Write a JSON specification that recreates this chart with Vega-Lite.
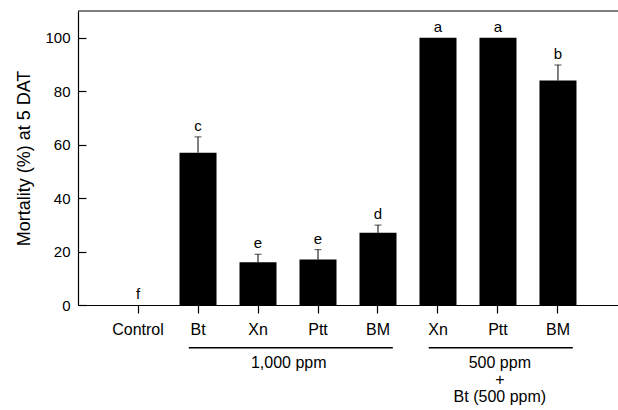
{
  "$schema": "https://vega.github.io/schema/vega-lite/v6.json",
  "width": 540,
  "height": 294,
  "autosize": "none",
  "padding": {"left": 78, "top": 11, "right": 0, "bottom": 105},
  "config": {
    "font": "Liberation Sans",
    "view": {"stroke": null},
    "axis": {"domainColor": "black", "tickColor": "black", "labelColor": "black", "titleColor": "black", "grid": false, "ticks": true, "tickWidth": 1.2, "domainWidth": 1.2}
  },
  "datasets": {
    "bars": [
      {"treatment": "Control", "value": 0, "hi": 0, "letter": "f"},
      {"treatment": "Bt", "value": 57, "hi": 62.9, "letter": "c"},
      {"treatment": "Xn", "value": 16, "hi": 19, "letter": "e"},
      {"treatment": "Ptt", "value": 17, "hi": 20.7, "letter": "e"},
      {"treatment": "BM", "value": 27, "hi": 29.9, "letter": "d"},
      {"treatment": "Xn+Bt", "value": 100, "hi": 100, "letter": "a"},
      {"treatment": "Ptt+Bt", "value": 100, "hi": 100, "letter": "a"},
      {"treatment": "BM+Bt", "value": 84, "hi": 89.8, "letter": "b"}
    ],
    "groups": [
      {"group": "1,000 ppm", "first": "Bt", "last": "BM"},
      {"group": "500 ppm\n+\nBt (500 ppm)", "first": "Xn+Bt", "last": "BM+Bt"}
    ]
  },
  "data": {"name": "bars"},
  "layer": [
    {
      "mark": {"type": "bar", "color": "black"},
      "encoding": {
        "x": {
          "field": "treatment", "type": "nominal",
          "scale": {
            "domain": ["Control", "Bt", "Xn", "Ptt", "BM", "Xn+Bt", "Ptt+Bt", "BM+Bt"],
            "paddingInner": 0.383, "paddingOuter": 0.692
          },
          "axis": {
            "title": null, "labelAngle": 0, "labelFontSize": 16, "tickSize": 8,
            "labelPadding": 8, "labelExpr": "split(datum.value, '+')[0]"
          }
        },
        "y": {
          "field": "value", "type": "quantitative",
          "scale": {"domain": [0, 110], "nice": false},
          "axis": {
            "title": "Mortality (%) at 5 DAT", "titleFontSize": 18, "titleFontWeight": "normal",
            "titlePadding": 11, "values": [0, 20, 40, 60, 80, 100],
            "labelFontSize": 15, "tickSize": -8, "labelPadding": 16
          }
        }
      }
    },
    {
      "transform": [{"filter": "datum.hi > datum.value"}],
      "mark": {"type": "rule", "color": "black", "strokeWidth": 1},
      "encoding": {
        "x": {"field": "treatment", "type": "nominal"},
        "y": {"field": "value", "type": "quantitative"},
        "y2": {"field": "hi"}
      }
    },
    {
      "transform": [{"filter": "datum.hi > datum.value"}],
      "mark": {"type": "tick", "color": "black", "size": 7, "thickness": 1},
      "encoding": {
        "x": {"field": "treatment", "type": "nominal"},
        "y": {"field": "hi", "type": "quantitative"}
      }
    },
    {
      "mark": {"type": "text", "fontSize": 15, "baseline": "bottom", "dy": -3, "color": "black"},
      "encoding": {
        "x": {"field": "treatment", "type": "nominal"},
        "y": {"field": "hi", "type": "quantitative"},
        "text": {"field": "letter"}
      }
    },
    {
      "data": {"values": [{}]},
      "mark": {"type": "rule", "color": "black", "strokeWidth": 1.2},
      "encoding": {"y": {"datum": 110}}
    },
    {
      "data": {"name": "groups"},
      "mark": {"type": "rule", "color": "black", "strokeWidth": 1.5},
      "encoding": {
        "x": {"field": "first", "type": "nominal", "bandPosition": 0.25},
        "x2": {"field": "last", "bandPosition": 0.9},
        "y": {"datum": -16}
      }
    },
    {
      "data": {"name": "groups"},
      "transform": [{"filter": "datum.first == 'Bt'"}],
      "mark": {"type": "text", "fontSize": 16, "baseline": "top", "color": "black"},
      "encoding": {
        "x": {"datum": "Xn", "bandPosition": 1.33},
        "y": {"datum": -18.7},
        "text": {"field": "group"}
      }
    },
    {
      "data": {"name": "groups"},
      "transform": [{"filter": "datum.first == 'Xn+Bt'"}],
      "mark": {"type": "text", "fontSize": 16, "baseline": "top", "lineHeight": 17, "lineBreak": "\n", "color": "black"},
      "encoding": {
        "x": {"datum": "Ptt+Bt", "bandPosition": 0.55},
        "y": {"datum": -18.7},
        "text": {"field": "group"}
      }
    }
  ]
}
